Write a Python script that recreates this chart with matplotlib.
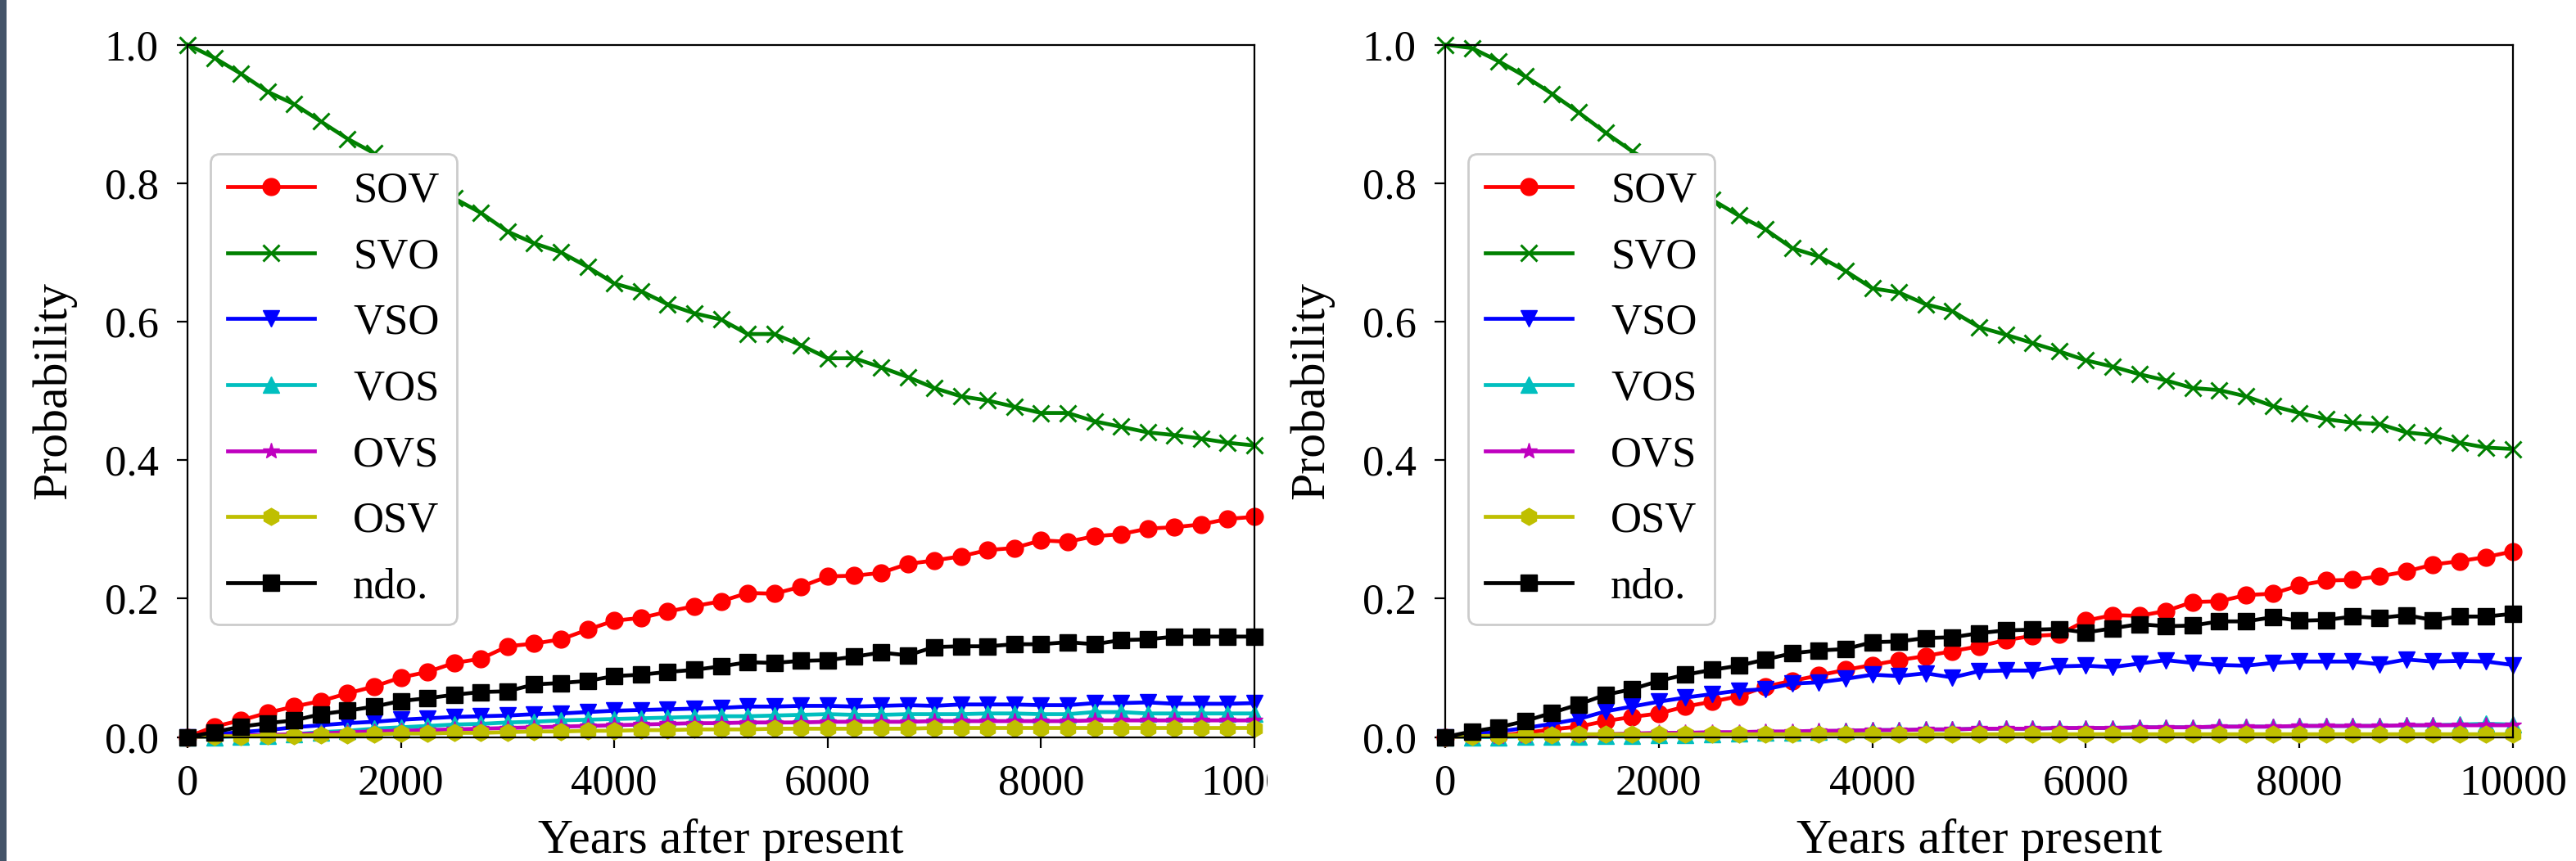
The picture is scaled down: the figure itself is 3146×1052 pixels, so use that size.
import matplotlib
matplotlib.use('Agg')
import matplotlib.pyplot as plt
from matplotlib.patches import Rectangle

plt.rcParams['font.family'] = ['Liberation Serif', 'DejaVu Serif']

# years sampled every 250 years
years = list(range(0, 10001, 250))
labels = ['SOV', 'SVO', 'VSO', 'VOS', 'OVS', 'OSV', 'ndo.']

# left panel
sov_a = [0, 0.015, 0.024, 0.035, 0.044, 0.052, 0.063, 0.073, 0.086, 0.094, 0.107,
         0.113, 0.131, 0.135, 0.141, 0.155, 0.168, 0.172, 0.181, 0.189, 0.196,
         0.208, 0.207, 0.217, 0.232, 0.233, 0.237, 0.250, 0.255, 0.261, 0.270,
         0.273, 0.284, 0.282, 0.290, 0.293, 0.301, 0.303, 0.307, 0.315, 0.318]
svo_a = [1.0, 0.981, 0.958, 0.932, 0.914, 0.889, 0.864, 0.843, 0.822, 0.800, 0.778,
         0.757, 0.730, 0.713, 0.700, 0.679, 0.655, 0.644, 0.625, 0.612, 0.603,
         0.582, 0.582, 0.566, 0.547, 0.547, 0.534, 0.520, 0.504, 0.492, 0.486,
         0.477, 0.468, 0.468, 0.456, 0.448, 0.440, 0.436, 0.431, 0.425, 0.421]
vso_a = [0, 0.004, 0.007, 0.010, 0.014, 0.017, 0.020, 0.022, 0.025, 0.027, 0.029,
         0.030, 0.031, 0.033, 0.034, 0.036, 0.038, 0.039, 0.040, 0.041, 0.042,
         0.044, 0.044, 0.045, 0.045, 0.044, 0.045, 0.046, 0.045, 0.047, 0.047,
         0.047, 0.046, 0.046, 0.049, 0.049, 0.050, 0.048, 0.048, 0.048, 0.049]
vos_a = [0, 0.0, 0.001, 0.002, 0.004, 0.007, 0.009, 0.012, 0.014, 0.016, 0.018,
         0.019, 0.021, 0.022, 0.024, 0.025, 0.026, 0.027, 0.028, 0.029, 0.030,
         0.030, 0.031, 0.032, 0.033, 0.032, 0.032, 0.033, 0.033, 0.033, 0.034,
         0.034, 0.033, 0.033, 0.036, 0.036, 0.034, 0.034, 0.034, 0.034, 0.034]
ovs_a = [0, 0.001, 0.002, 0.003, 0.004, 0.005, 0.007, 0.008, 0.009, 0.010, 0.011,
         0.012, 0.013, 0.014, 0.015, 0.016, 0.017, 0.018, 0.019, 0.020, 0.020,
         0.021, 0.021, 0.021, 0.022, 0.022, 0.022, 0.022, 0.023, 0.023, 0.023,
         0.023, 0.023, 0.023, 0.024, 0.024, 0.024, 0.024, 0.024, 0.024, 0.024]
osv_a = [0, 0.001, 0.001, 0.002, 0.002, 0.003, 0.003, 0.004, 0.005, 0.005, 0.006,
         0.006, 0.007, 0.008, 0.008, 0.009, 0.009, 0.010, 0.010, 0.011, 0.011,
         0.011, 0.012, 0.012, 0.012, 0.012, 0.012, 0.012, 0.013, 0.013, 0.013,
         0.013, 0.013, 0.013, 0.013, 0.013, 0.013, 0.013, 0.013, 0.013, 0.013]
ndo_a = [0, 0.007, 0.015, 0.020, 0.024, 0.033, 0.038, 0.044, 0.052, 0.056, 0.061,
         0.065, 0.066, 0.076, 0.078, 0.081, 0.088, 0.090, 0.094, 0.097, 0.102,
         0.108, 0.107, 0.110, 0.111, 0.116, 0.122, 0.118, 0.130, 0.131, 0.131,
         0.134, 0.134, 0.137, 0.134, 0.140, 0.141, 0.145, 0.145, 0.145, 0.145]

# right panel
sov_b = [0, 0.002, 0.002, 0.006, 0.011, 0.015, 0.023, 0.029, 0.034, 0.044, 0.051,
         0.059, 0.073, 0.081, 0.089, 0.097, 0.104, 0.111, 0.117, 0.124, 0.131,
         0.140, 0.146, 0.148, 0.168, 0.176, 0.175, 0.182, 0.195, 0.196, 0.205,
         0.207, 0.219, 0.226, 0.227, 0.232, 0.239, 0.249, 0.254, 0.260, 0.268]
svo_b = [1.0, 0.995, 0.976, 0.954, 0.929, 0.902, 0.873, 0.846, 0.823, 0.800, 0.776,
         0.753, 0.733, 0.706, 0.694, 0.673, 0.648, 0.642, 0.625, 0.615, 0.592,
         0.581, 0.569, 0.557, 0.544, 0.535, 0.524, 0.515, 0.504, 0.501, 0.492,
         0.478, 0.468, 0.459, 0.454, 0.452, 0.440, 0.436, 0.425, 0.418, 0.416]
vso_b = [0, 0.004, 0.008, 0.013, 0.019, 0.026, 0.037, 0.044, 0.051, 0.057, 0.062,
         0.067, 0.069, 0.077, 0.079, 0.084, 0.090, 0.088, 0.092, 0.086, 0.095,
         0.096, 0.096, 0.102, 0.103, 0.101, 0.106, 0.111, 0.107, 0.104, 0.103,
         0.107, 0.109, 0.109, 0.109, 0.105, 0.112, 0.109, 0.110, 0.109, 0.104]
vos_b = [0, 0, 0, 0.001, 0.001, 0.001, 0.002, 0.002, 0.003, 0.003, 0.004,
         0.005, 0.006, 0.007, 0.008, 0.009, 0.010, 0.010, 0.011, 0.011, 0.012,
         0.012, 0.012, 0.013, 0.013, 0.013, 0.014, 0.014, 0.014, 0.015, 0.015,
         0.015, 0.016, 0.016, 0.016, 0.016, 0.017, 0.017, 0.018, 0.019, 0.018]
ovs_b = [0, 0.001, 0.001, 0.002, 0.003, 0.003, 0.004, 0.005, 0.006, 0.006, 0.007,
         0.007, 0.008, 0.008, 0.009, 0.009, 0.010, 0.010, 0.011, 0.011, 0.012,
         0.012, 0.012, 0.013, 0.013, 0.013, 0.014, 0.014, 0.014, 0.015, 0.015,
         0.015, 0.016, 0.016, 0.016, 0.016, 0.017, 0.017, 0.017, 0.017, 0.017]
osv_b = [0, 0.001, 0.002, 0.003, 0.003, 0.004, 0.004, 0.004, 0.004, 0.004, 0.004,
         0.004, 0.004, 0.004, 0.004, 0.004, 0.004, 0.004, 0.004, 0.004, 0.004,
         0.004, 0.004, 0.004, 0.004, 0.004, 0.004, 0.004, 0.004, 0.004, 0.004,
         0.004, 0.004, 0.004, 0.004, 0.004, 0.004, 0.004, 0.004, 0.004, 0.004]
ndo_b = [0, 0.008, 0.014, 0.023, 0.035, 0.047, 0.061, 0.069, 0.081, 0.090, 0.097,
         0.103, 0.112, 0.121, 0.125, 0.127, 0.137, 0.138, 0.143, 0.144, 0.150,
         0.154, 0.155, 0.156, 0.151, 0.157, 0.163, 0.160, 0.161, 0.167, 0.167,
         0.173, 0.168, 0.169, 0.174, 0.172, 0.176, 0.169, 0.174, 0.174, 0.178]

styles = [('r', 'o'), ('g', 'x'), ('b', 'v'), ('c', '^'), ('m', '*'), ('y', 'h'), ('k', 's')]

W, H = 3146, 1052
fig = plt.figure(figsize=(W / 100, H / 100), dpi=100)


def draw_panel(ax, series):
    for (col, mk), vals, lab in zip(styles, series, labels):
        ax.plot(years, vals, color=col, marker=mk, label=lab, linewidth=3.4,
                markersize=15, markeredgewidth=2.2 if mk == 'x' else 1,
                clip_on=False)
    ax.set_xlim(0, 10000)
    ax.set_ylim(0, 1.0)
    ax.set_xticks([0, 2000, 4000, 6000, 8000, 10000])
    ax.set_yticks([0.0, 0.2, 0.4, 0.6, 0.8, 1.0])
    ax.set_yticklabels(['0.0', '0.2', '0.4', '0.6', '0.8', '1.0'])
    ax.tick_params(axis='both', labelsize=38, length=9.5, width=1.6)
    ax.tick_params(axis='x', pad=14)
    ax.tick_params(axis='y', pad=16)
    for sp in ax.spines.values():
        sp.set_linewidth(1.6)
    ax.set_xlabel('Years after present', fontsize=43)
    ax.set_ylabel('Probability', fontsize=43)
    ax.xaxis.set_label_coords(0.5, -0.118)
    ax.yaxis.set_label_coords(-0.104, 0.5)
    leg = ax.legend(loc='upper left', bbox_to_anchor=(0.0215, 0.842), borderaxespad=0,
                    fontsize=38, handlelength=2.0, handletextpad=0.9,
                    labelspacing=0.62, borderpad=0.4, framealpha=1, edgecolor='0.8')
    leg.get_frame().set_linewidth(2)


ax1 = fig.add_axes([229 / W, (H - 900.5) / H, 1303 / W, 846 / H])
draw_panel(ax1, [sov_a, svo_a, vso_a, vos_a, ovs_a, osv_a, ndo_a])

# white backing of the second figure covers the clipped tick label
fig.add_artist(Rectangle((1548 / W, 0), 1 - 1548 / W, 1, transform=fig.transFigure,
                         facecolor='white', edgecolor='none', zorder=0.5))

ax2 = fig.add_axes([1765 / W, (H - 900.5) / H, 1304 / W, 846 / H])
ax2.set_zorder(1)
draw_panel(ax2, [sov_b, svo_b, vso_b, vos_b, ovs_b, osv_b, ndo_b])

# dark strip on the far left edge
fig.add_artist(Rectangle((0, 0), 8 / W, 1, transform=fig.transFigure,
                         facecolor='#445469', edgecolor='none', zorder=3))

fig.savefig('out.png', dpi=100)
